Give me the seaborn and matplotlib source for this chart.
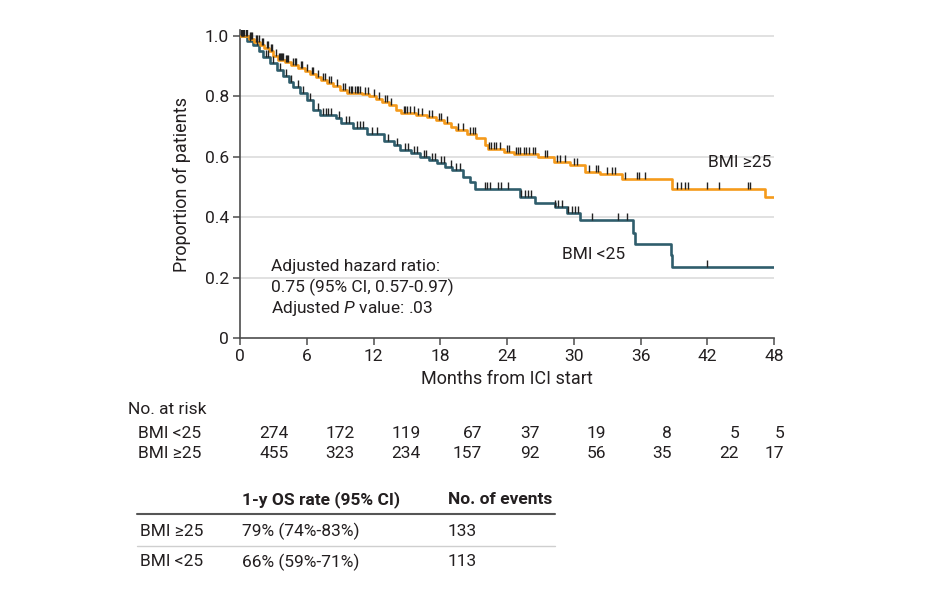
import numpy as np
import pandas as pd
import matplotlib
matplotlib.use("Agg")
import matplotlib.pyplot as plt
import seaborn as sns

# ---------------- data ----------------
groups = ["BMI ≥25", "BMI <25"]

hi_times = [0, 0.8, 1.3, 1.8, 2.2, 2.6, 3.0, 3.4, 4.0, 4.6, 5.2, 5.8, 6.3, 6.8, 7.3, 7.8,
            8.4, 9.0, 9.6, 11.0, 11.6, 12.2, 12.8, 13.4, 14.0, 14.5, 15.8, 16.8, 17.6,
            18.3, 19.0, 19.4, 20.4, 21.2, 22.0, 22.3, 23.7, 24.6, 26.8, 28.2, 29.7, 31.0,
            32.4, 34.3, 38.8, 47.2]
hi_surv = [1.0, 0.99, 0.98, 0.97, 0.96, 0.95, 0.935, 0.92, 0.915, 0.905, 0.895, 0.885,
           0.875, 0.865, 0.855, 0.845, 0.835, 0.822, 0.812, 0.808, 0.80, 0.79, 0.78, 0.77,
           0.755, 0.745, 0.74, 0.732, 0.722, 0.712, 0.70, 0.69, 0.675, 0.662, 0.64, 0.626,
           0.617, 0.609, 0.60, 0.582, 0.574, 0.551, 0.542, 0.526, 0.495, 0.468]

lo_times = [0, 0.6, 1.2, 1.7, 2.1, 2.7, 3.3, 3.9, 4.4, 4.8, 5.4, 6.0, 6.6, 7.2, 8.6, 9.1,
            10.2, 11.4, 12.9, 13.8, 14.4, 15.4, 16.2, 17.0, 17.7, 18.4, 19.1, 20.0, 20.7,
            21.1, 25.2, 26.5, 28.3, 29.4, 30.6, 35.3, 35.5, 38.7, 38.8]
lo_surv = [1.0, 0.985, 0.97, 0.95, 0.93, 0.91, 0.887, 0.867, 0.848, 0.832, 0.81, 0.788,
           0.755, 0.738, 0.73, 0.712, 0.695, 0.675, 0.652, 0.638, 0.624, 0.612, 0.60, 0.59,
           0.578, 0.565, 0.556, 0.534, 0.518, 0.492, 0.468, 0.448, 0.435, 0.413, 0.392,
           0.347, 0.311, 0.275, 0.236]

followup_end = 48

hi_censor = [0.1, 0.2, 0.3, 0.4, 0.5, 0.6, 0.9, 1.0, 1.1, 1.4, 1.5, 1.7, 2.0, 2.1, 2.4,
             2.5, 2.8, 2.9, 3.2, 3.5, 3.6, 3.7, 3.8, 3.9, 4.1, 4.2, 4.3, 4.8, 4.9, 5.0,
             5.5, 5.6, 6.0, 6.5, 6.6, 7.0, 7.5, 7.6, 8.0, 8.2, 8.7, 9.3, 9.4, 9.8, 10.0,
             10.1, 10.3, 10.5, 10.6, 10.8, 11.2, 11.5, 12.0, 12.5, 13.0, 13.2, 13.6, 14.7,
             14.8, 15.0, 15.3, 15.6, 16.0, 16.4, 17.0, 17.3, 17.9, 18.1, 18.6, 19.6, 20.0,
             20.7, 20.9, 21.1, 22.4, 22.6, 22.8, 23.0, 23.4, 24.0, 24.2, 24.8, 25.0, 25.2,
             25.5, 25.7, 26.0, 26.3, 26.5, 27.4, 27.6, 28.5, 28.8, 29.2, 30.0, 30.3, 31.4,
             32.0, 32.2, 33.0, 33.4, 33.7, 34.6, 35.7, 35.9, 36.4, 39.3, 39.6, 40.0, 40.3,
             42.0, 43.1, 45.7, 45.8]
lo_censor = [0.2, 0.3, 0.9, 1.5, 2.3, 2.5, 3.0, 3.6, 4.1, 4.6, 5.2, 5.7, 6.3, 7.0, 7.5,
             7.7, 7.9, 8.2, 8.9, 9.5, 9.8, 10.5, 10.8, 11.1, 11.9, 12.3, 13.3, 14.1, 14.8,
             15.1, 15.6, 15.9, 16.5, 16.7, 17.3, 17.5, 18.1, 18.3, 19.0, 19.4, 19.8, 22.0,
             22.2, 22.5, 23.2, 23.5, 24.1, 25.3, 25.6, 25.9, 26.2, 28.3, 28.6, 28.9, 29.5,
             29.8, 30.1, 30.4, 31.6, 34.0, 34.8, 42.0]

x_ticks = [0, 6, 12, 18, 24, 30, 36, 42, 48]
y_ticks = [0, 0.2, 0.4, 0.6, 0.8, 1.0]
y_tick_labels = ["0", "0.2", "0.4", "0.6", "0.8", "1.0"]

risk_lo = [274, 172, 119, 67, 37, 19, 8, 5, 5]
risk_hi = [455, 323, 234, 157, 92, 56, 35, 22, 17]

os_rates = ["79% (74%-83%)", "66% (59%-71%)"]
events = [133, 113]

# ---------------- style ----------------
sns.set_theme(style="white")
plt.rcParams["font.family"] = ["Roboto", "DejaVu Sans"]
plt.rcParams["mathtext.fontset"] = "custom"
plt.rcParams["mathtext.it"] = "Roboto:italic"
plt.rcParams["mathtext.rm"] = "Roboto"

TXT = "#231f20"
AXC = "#4d4d4d"
ORANGE = "#f59a1b"
TEAL = "#2f5d6c"
colors = {"BMI ≥25": ORANGE, "BMI <25": TEAL}

W, H = 935, 589
fig = plt.figure(figsize=(W / 100, H / 100), dpi=100)
ax = fig.add_axes([240 / W, 1 - 338 / H, (774 - 240) / W, (338 - 30) / H])

def fx(px):
    return px / W

def fy(py):
    return 1 - py / H

# step curves
rows = []
for g, t, s in [("BMI ≥25", hi_times, hi_surv), ("BMI <25", lo_times, lo_surv)]:
    tt = list(t) + [followup_end]
    ss = list(s) + [s[-1]]
    for a, b in zip(tt, ss):
        rows.append({"group": g, "time": a, "surv": b})
df = pd.DataFrame(rows)

def surv_at(times, surv, c):
    idx = np.searchsorted(np.array(times), np.array(c), side="right") - 1
    return np.array(surv)[idx]

cens = pd.concat([
    pd.DataFrame({"group": "BMI ≥25", "time": hi_censor, "surv": surv_at(hi_times, hi_surv, hi_censor)}),
    pd.DataFrame({"group": "BMI <25", "time": lo_censor, "surv": surv_at(lo_times, lo_surv, lo_censor)}),
])

for y in y_ticks[1:]:
    ax.axhline(y, color="#dedede", lw=1.3, zorder=0)

for g in ["BMI <25", "BMI ≥25"]:
    sub = df[df.group == g]
    sns.lineplot(data=sub, x="time", y="surv", color=colors[g], drawstyle="steps-post",
                 estimator=None, sort=False, lw=1.9, ax=ax, legend=False, zorder=3)

sns.scatterplot(data=cens, x="time", y="surv", marker=2, color="#222222", s=26,
                linewidth=1.0, ax=ax, legend=False, zorder=4)

ax.set_xlim(0, 48)
ax.set_ylim(0, 1.02)
ax.set_xticks(x_ticks)
ax.set_xticklabels([str(v) for v in x_ticks])
ax.set_yticks(y_ticks)
ax.set_yticklabels(y_tick_labels)
for sp in ["top", "right"]:
    ax.spines[sp].set_visible(False)
for sp in ["left", "bottom"]:
    ax.spines[sp].set_color(AXC)
    ax.spines[sp].set_linewidth(1.2)
ax.tick_params(axis="both", direction="out", length=5, width=1.1, color=AXC,
               labelsize=12.5, labelcolor=TXT, pad=3, bottom=True, left=True)
ax.set_xlabel("Months from ICI start", fontsize=13, color=TXT, labelpad=4)
ax.set_ylabel("Proportion of patients", fontsize=13, color=TXT, labelpad=10)

# annotations
fs = 12.5
ax.text(2.8, 0.238, "Adjusted hazard ratio:", fontsize=fs, color=TXT, va="center")
ax.text(2.8, 0.169, "0.75 (95% CI, 0.57-0.97)", fontsize=fs, color=TXT, va="center")
ax.text(2.8, 0.099, "Adjusted $P$ value: .03", fontsize=fs, color=TXT, va="center")
ax.text(47.8, 0.58, "BMI ≥25", fontsize=fs, color=TXT, va="center", ha="right")
ax.text(31.8, 0.278, "BMI <25", fontsize=fs, color=TXT, va="center", ha="center")

# number at risk
fig.text(fx(128), fy(410), "No. at risk", fontsize=fs, color=TXT, va="center", ha="left")
fig.text(fx(138), fy(433), "BMI <25", fontsize=fs, color=TXT, va="center", ha="left")
fig.text(fx(138), fy(454), "BMI ≥25", fontsize=fs, color=TXT, va="center", ha="left")
col_right_px = [289, 355, 421, 482, 540, 606, 672, 739, 784]
for i, xr in enumerate(col_right_px):
    fig.text(fx(xr), fy(433), str(risk_lo[i]), fontsize=fs, color=TXT, va="center", ha="right")
    fig.text(fx(xr), fy(454), str(risk_hi[i]), fontsize=fs, color=TXT, va="center", ha="right")

# summary table
fig.text(fx(242), fy(500), "1-y OS rate (95% CI)", fontsize=fs, color=TXT, va="center",
         ha="left", fontweight="bold")
fig.text(fx(448), fy(500), "No. of events", fontsize=fs, color=TXT, va="center",
         ha="left", fontweight="bold")
fig.add_artist(plt.Line2D([fx(137), fx(555)], [fy(514), fy(514)], color="#555555", lw=1.5))
fig.add_artist(plt.Line2D([fx(137), fx(555)], [fy(546), fy(546)], color="#cfcfcf", lw=1.0))
row_y = [531, 562]
for i, g in enumerate(groups):
    fig.text(fx(140), fy(row_y[i]), g, fontsize=fs, color=TXT, va="center", ha="left")
    fig.text(fx(242), fy(row_y[i]), os_rates[i], fontsize=fs, color=TXT, va="center", ha="left")
    fig.text(fx(448), fy(row_y[i]), str(events[i]), fontsize=fs, color=TXT, va="center", ha="left")

fig.savefig("out.png", dpi=100)
